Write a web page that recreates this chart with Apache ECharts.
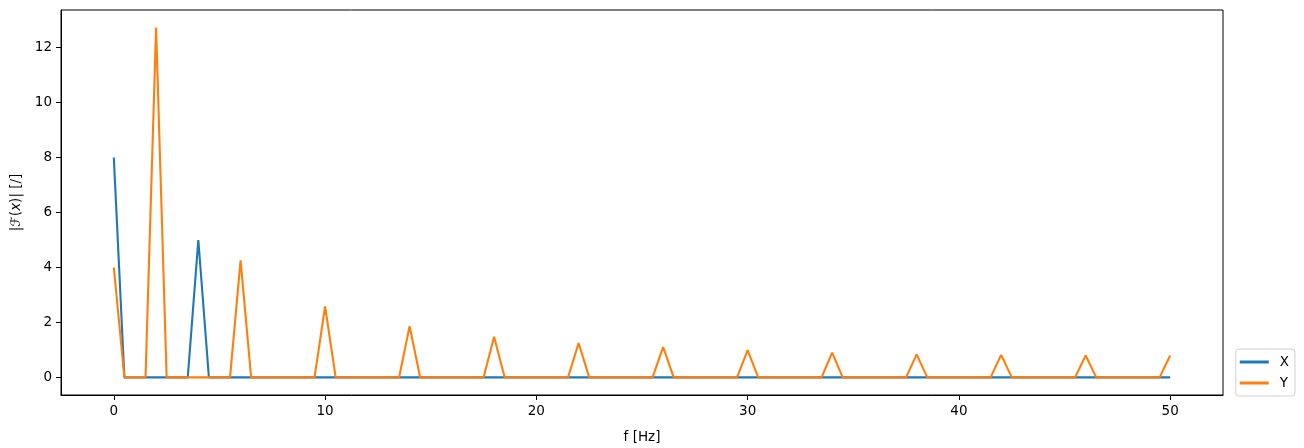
<!DOCTYPE html>
<html>
<head>
<meta charset="utf-8">
<script src="https://cdn.jsdelivr.net/npm/echarts@6/dist/echarts.min.js"></script>
<style>
  html, body { margin: 0; padding: 0; background: #fff; }
  #grafica { width: 1304px; height: 448px; }
</style>
</head>
<body>
<div id="grafica"></div>
<script>
// frequency bins [Hz]
const freqs = [
  0, 0.5, 1, 1.5, 2, 2.5, 3, 3.5, 4, 4.5, 5, 5.5, 6, 6.5, 7, 7.5, 8, 8.5, 9, 9.5,
  10, 10.5, 11, 11.5, 12, 12.5, 13, 13.5, 14, 14.5, 15, 15.5, 16, 16.5, 17, 17.5, 18, 18.5, 19, 19.5,
  20, 20.5, 21, 21.5, 22, 22.5, 23, 23.5, 24, 24.5, 25, 25.5, 26, 26.5, 27, 27.5, 28, 28.5, 29, 29.5,
  30, 30.5, 31, 31.5, 32, 32.5, 33, 33.5, 34, 34.5, 35, 35.5, 36, 36.5, 37, 37.5, 38, 38.5, 39, 39.5,
  40, 40.5, 41, 41.5, 42, 42.5, 43, 43.5, 44, 44.5, 45, 45.5, 46, 46.5, 47, 47.5, 48, 48.5, 49, 49.5,
  50
];

// |F(x)| for signal X
const magX = [
  8, 0, 0, 0, 0, 0, 0, 0, 5, 0, 0, 0, 0, 0, 0, 0, 0, 0, 0, 0,
  0, 0, 0, 0, 0, 0, 0, 0, 0, 0, 0, 0, 0, 0, 0, 0, 0, 0, 0, 0,
  0, 0, 0, 0, 0, 0, 0, 0, 0, 0, 0, 0, 0, 0, 0, 0, 0, 0, 0, 0,
  0, 0, 0, 0, 0, 0, 0, 0, 0, 0, 0, 0, 0, 0, 0, 0, 0, 0, 0, 0,
  0, 0, 0, 0, 0, 0, 0, 0, 0, 0, 0, 0, 0, 0, 0, 0, 0, 0, 0, 0,
  0
];

// |F(x)| for signal Y
const magY = [
  4, 0, 0, 0, 12.73, 0, 0, 0, 0, 0, 0, 0, 4.26, 0, 0, 0, 0, 0, 0, 0,
  2.58, 0, 0, 0, 0, 0, 0, 0, 1.86, 0, 0, 0, 0, 0, 0, 0, 1.48, 0, 0, 0,
  0, 0, 0, 0, 1.25, 0, 0, 0, 0, 0, 0, 0, 1.1, 0, 0, 0, 0, 0, 0, 0,
  0.99, 0, 0, 0, 0, 0, 0, 0, 0.9, 0, 0, 0, 0, 0, 0, 0, 0.84, 0, 0, 0,
  0, 0, 0, 0, 0.82, 0, 0, 0, 0, 0, 0, 0, 0.8, 0, 0, 0, 0, 0, 0, 0,
  0.8
];

const xTicks = [0, 10, 20, 30, 40, 50];
const yTicks = [0, 2, 4, 6, 8, 10, 12];

const fuente = 'DejaVu Sans';

function pares(valores) {
  return freqs.map(function (f, i) { return [f, valores[i]]; });
}

var dom = document.getElementById('grafica');
var myChart = echarts.init(dom, null, { renderer: 'canvas' });

var option = {
  animation: false,
  textStyle: { fontFamily: fuente },
  grid: {
    left: 61, right: 81, top: 10, bottom: 53,
    containLabel: false,
    outerBoundsMode: 'none',
    show: true, borderColor: '#000', borderWidth: 1, backgroundColor: 'transparent'
  },
  legend: {
    orient: 'vertical',
    right: 9,
    bottom: 52,
    padding: [6, 6, 6, 4],
    itemGap: 7,
    itemWidth: 29,
    itemHeight: 3,
    icon: 'rect',
    borderColor: '#d0d0d0',
    borderWidth: 1,
    borderRadius: 3,
    backgroundColor: '#fff',
    textStyle: { fontFamily: fuente, fontSize: 13.5, color: '#000', padding: [0, 0, 0, 6] },
    data: ['X', 'Y']
  },
  xAxis: {
    type: 'value',
    min: -2.5,
    max: 52.5,
    name: 'f [Hz]',
    nameLocation: 'middle',
    nameGap: 35,
    nameTextStyle: { fontFamily: fuente, fontSize: 13.5, color: '#000' },
    splitLine: { show: false },
    axisLine: { show: true, onZero: false, lineStyle: { color: '#000', width: 1 } },
    axisTick: { show: true, length: 5, customValues: xTicks, lineStyle: { color: '#000' } },
    axisLabel: { customValues: xTicks, margin: 9, fontSize: 13.5, color: '#000', fontFamily: fuente }
  },
  yAxis: {
    type: 'value',
    min: -0.64,
    max: 13.37,
    name: '|{i|ℱ}({i|x})| [/]',
    nameLocation: 'middle',
    nameGap: 38,
    nameRotate: 90,
    nameTextStyle: {
      fontFamily: fuente, fontSize: 13.5, color: '#000',
      rich: { i: { fontFamily: fuente, fontSize: 13.5, fontStyle: 'italic', color: '#000' } }
    },
    splitLine: { show: false },
    axisLine: { show: true, onZero: false, lineStyle: { color: '#000', width: 1 } },
    axisTick: { show: true, length: 5, customValues: yTicks, lineStyle: { color: '#000' } },
    axisLabel: { customValues: yTicks, margin: 9, fontSize: 13.5, color: '#000', fontFamily: fuente }
  },
  series: [
    {
      name: 'X',
      type: 'line',
      data: pares(magX),
      symbol: 'none',
      color: '#1f77b4',
      lineStyle: { width: 2.1, color: '#1f77b4' }
    },
    {
      name: 'Y',
      type: 'line',
      data: pares(magY),
      symbol: 'none',
      color: '#ff7f0e',
      lineStyle: { width: 2.1, color: '#ff7f0e' }
    }
  ]
};

myChart.setOption(option);
window.addEventListener('resize', myChart.resize);
</script>
</body>
</html>
